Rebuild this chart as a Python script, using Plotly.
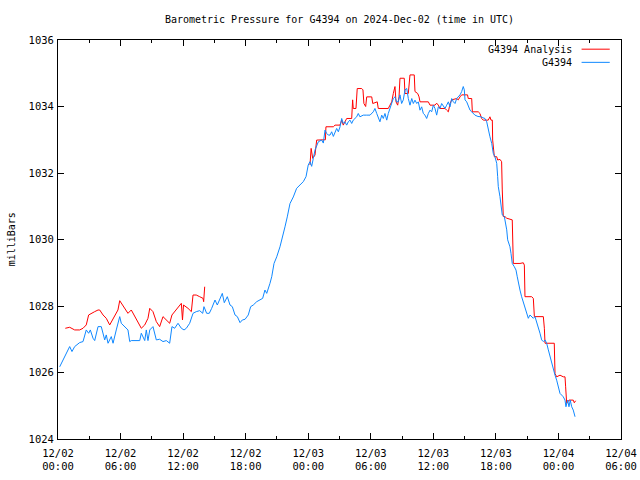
import pandas as pd
import plotly.graph_objects as go

start = pd.Timestamp("2024-12-02 00:00")

# G4394 observations: hours since 2024-12-02 00:00 UTC, pressure (mb)
obs_hours = [0.16, 0.80, 1.12, 1.34, 1.60, 2.08, 2.40, 2.71, 2.94, 3.10, 3.36, 3.52, 3.84, 4.15, 4.48,
             4.63, 4.80, 5.11, 5.28, 5.59, 5.92, 6.07, 6.40, 6.71, 6.88, 7.03, 7.84, 7.99, 8.32, 8.47,
             8.63, 8.80, 9.11, 9.27, 9.43, 9.75, 10.07, 10.39, 10.71, 10.93, 11.19, 11.51, 11.83, 12.09,
             12.31, 12.63, 12.95, 13.26, 13.59, 13.88, 14.00, 14.26, 14.51, 14.74, 15.06, 15.28, 15.54,
             15.76, 15.95, 16.24, 16.50, 16.72, 16.98, 17.20, 17.46, 17.68, 17.94, 18.25, 18.48, 18.73,
             19.06, 19.37, 19.63, 19.85, 20.02, 20.33, 20.50, 20.72, 20.98, 21.29, 21.55, 21.77, 21.99,
             22.25, 22.57, 22.89, 23.21, 23.53, 23.79, 23.91, 24.00, 24.17, 24.33, 24.49, 24.65, 24.97,
             25.29, 25.45, 25.61, 25.77, 25.93, 26.09, 26.25, 26.41, 26.73, 26.89, 27.05, 27.21, 27.36,
             27.52, 27.69, 27.84, 28.01, 28.17, 28.32, 28.65, 28.80, 28.96, 29.28, 29.61, 29.93, 30.24,
             30.40, 30.57, 30.88, 31.05, 31.20, 31.36, 31.53, 31.68, 31.84, 32.01, 32.16, 32.32, 32.48,
             32.64, 32.80, 32.96, 33.12, 33.28, 33.45, 33.60, 33.76, 33.93, 34.08, 34.24, 34.41, 34.56,
             34.72, 34.88, 35.04, 35.20, 35.36, 35.52, 35.68, 35.84, 36.00, 36.16, 36.32, 36.48, 36.64,
             36.80, 36.96, 37.12, 37.28, 37.44, 37.60, 37.76, 37.92, 38.08, 38.24, 38.39, 38.56, 38.72,
             38.87, 38.97, 39.04, 39.20, 39.35, 39.52, 39.68, 39.83, 39.99, 40.28, 40.57, 40.76, 40.95,
             41.12, 41.27, 41.43, 41.60, 41.75, 41.91, 42.08, 42.17, 42.23, 42.39, 42.49, 42.61, 42.81,
             42.94, 43.04, 43.13, 43.26, 43.35, 43.45, 43.57, 43.77, 43.93, 44.05, 44.15, 44.31, 44.47,
             44.63, 44.79, 44.95, 45.11, 45.27, 45.43, 45.59, 45.75, 45.91, 46.07, 46.23, 46.39, 46.55,
             46.71, 46.87, 47.03, 47.19, 47.35, 47.51, 47.67, 47.83, 47.98, 48.15, 48.31, 48.46, 48.63,
             48.72, 48.88, 49.01, 49.13, 49.27, 49.42, 49.59]
obs_mb = [1026.17, 1026.58, 1026.78, 1026.63, 1026.78, 1026.90, 1026.93, 1027.28, 1027.18, 1027.28, 1027.03,
          1026.96, 1027.38, 1027.38, 1026.98, 1027.13, 1026.88, 1027.08, 1026.88, 1027.28, 1027.68, 1027.48,
          1027.38, 1027.28, 1026.93, 1026.96, 1026.96, 1027.18, 1026.96, 1027.28, 1026.96, 1027.28, 1027.38,
          1027.18, 1026.98, 1027.00, 1026.93, 1026.96, 1026.88, 1027.38, 1027.33, 1027.48, 1027.33, 1027.28,
          1027.33, 1027.48, 1027.78, 1027.83, 1027.86, 1027.78, 1027.98, 1027.78, 1027.78, 1027.93, 1028.18,
          1028.03, 1028.23, 1028.38, 1028.10, 1028.28, 1028.03, 1027.98, 1027.73, 1027.68, 1027.50, 1027.58,
          1027.60, 1027.73, 1027.98, 1028.03, 1028.13, 1028.18, 1028.23, 1028.48, 1028.38, 1028.68, 1028.88,
          1029.28, 1029.48, 1029.78, 1030.08, 1030.38, 1030.68, 1031.08, 1031.28, 1031.54, 1031.64, 1031.74,
          1031.89, 1032.14, 1032.24, 1032.34, 1032.20, 1032.44, 1032.69, 1032.94, 1032.99, 1032.90, 1033.29,
          1033.19, 1033.14, 1033.14, 1033.24, 1033.10, 1033.34, 1033.24, 1033.39, 1033.64, 1033.49, 1033.54,
          1033.44, 1033.54, 1033.59, 1033.49, 1033.59, 1033.69, 1033.79, 1033.69, 1033.74, 1033.74, 1033.74,
          1033.84, 1033.94, 1033.79, 1033.54, 1033.74, 1033.64, 1033.79, 1033.59, 1033.79, 1033.94, 1034.14,
          1034.24, 1034.29, 1034.14, 1034.14, 1034.35, 1034.09, 1034.20, 1034.50, 1034.54, 1034.24, 1034.04,
          1034.24, 1034.09, 1034.19, 1034.09, 1034.14, 1033.89, 1033.99, 1033.79, 1033.74, 1033.64, 1033.79,
          1033.89, 1033.84, 1034.04, 1033.94, 1033.74, 1033.99, 1033.94, 1034.09, 1033.99, 1033.94, 1034.04,
          1034.14, 1033.99, 1034.24, 1034.14, 1034.09, 1034.24, 1034.29, 1034.35, 1034.45, 1034.60, 1034.50,
          1034.20, 1034.14, 1034.00, 1033.89, 1033.84, 1033.79, 1033.74, 1033.70, 1033.69, 1033.66, 1033.64,
          1033.54, 1033.29, 1033.09, 1032.89, 1032.59, 1032.49, 1032.29, 1031.89, 1031.59, 1031.29, 1030.99,
          1030.74, 1030.69, 1030.49, 1030.29, 1029.99, 1029.89, 1029.78, 1029.58, 1029.28, 1029.18, 1029.08,
          1028.88, 1028.68, 1028.48, 1028.28, 1028.13, 1027.93, 1027.83, 1027.63, 1027.73, 1027.68, 1027.63,
          1027.68, 1027.53, 1027.38, 1027.18, 1026.98, 1026.93, 1026.98, 1026.88, 1026.68, 1026.48, 1026.27,
          1026.07, 1025.92, 1025.77, 1025.57, 1025.37, 1025.32, 1025.27, 1025.17, 1024.97, 1025.17, 1024.97,
          1025.17, 1024.97, 1024.87, 1024.67]

# G4394 Analysis: hours since start (None = gap), pressure (mb)
ana_hours = [0.70, 1.12, 1.60, 2.08, 2.40, 2.71, 2.94, 3.19, 3.52, 3.84, 4.00, 4.32, 4.63, 4.96, 5.28,
             5.59, 5.75, 5.92, 6.07, 6.40, 6.71, 7.03, 7.36, 7.67, 7.99, 8.32, 8.63, 8.80, 9.11, 9.43,
             9.75, 10.07, 10.39, 10.71, 10.93, 11.19, 11.51, 11.83, 11.94, 12.04, 12.47, 12.79, 12.95,
             13.26, 13.59, 13.91, 13.97, 14.07, None,
             24.17, 24.28, 24.43, 24.65, 24.81, 25.29, 25.65, 25.70, 26.41, 26.57, 27.05, 27.21, 27.36,
             27.69, 28.17, 28.26, 28.32, 28.58, 28.70, 29.13, 29.25, 29.34, 29.51, 29.61, 30.09, 30.19,
             30.62, 30.72, 31.68, 31.84, 32.01, 32.16, 32.32, 32.42, 32.58, 32.71, 32.80, 33.21, 33.28,
             33.60, 33.67, 33.76, 34.17, 34.24, 34.50, 34.63, 34.72, 35.52, 35.68, 36.16, 36.32, 36.48,
             36.64, 37.12, 37.28, 37.44, 37.60, 37.76, 38.24, 38.39, 38.56, 38.72, 39.28, 39.35, 39.68,
             39.74, 40.31, 40.47, 40.63, 40.79, 41.27, 41.43, 41.53, 41.66, 41.69, 41.75, 41.85, 42.08,
             42.17, 42.39, 42.55, 42.61, 42.71, 42.87, 43.04, 43.57, 43.67, 44.31, 44.63, 44.73, 44.79,
             45.43, 45.59, 45.69, 46.55, 46.65, 46.71, 47.60, 47.67, 47.83, 48.15, 48.46, 48.63, 48.69,
             48.79, 49.01, 49.42, 49.52, 49.65]
ana_mb = [1027.33, 1027.36, 1027.28, 1027.28, 1027.33, 1027.43, 1027.73, 1027.78, 1027.83, 1027.88, 1027.88,
          1027.73, 1027.63, 1027.43, 1027.63, 1027.83, 1027.88, 1028.16, 1028.08, 1027.93, 1027.78, 1027.88,
          1027.68, 1027.48, 1027.33, 1027.43, 1027.63, 1027.93, 1027.83, 1027.53, 1027.38, 1027.68, 1027.58,
          1027.48, 1027.73, 1027.83, 1027.93, 1028.08, 1027.58, 1028.03, 1027.93, 1027.83, 1028.33, 1028.33,
          1028.28, 1028.23, 1028.13, 1028.58, None,
          1032.24, 1032.74, 1032.44, 1032.54, 1032.99, 1032.99, 1033.00, 1033.39, 1033.39, 1033.44, 1033.44,
          1033.59, 1033.44, 1033.64, 1033.64, 1034.20, 1033.94, 1033.94, 1034.54, 1034.54, 1034.50, 1034.09,
          1034.00, 1034.29, 1034.29, 1034.09, 1034.14, 1033.94, 1033.94, 1034.04, 1034.14, 1034.39, 1034.60,
          1034.14, 1034.04, 1034.29, 1034.85, 1034.85, 1034.39, 1034.39, 1034.65, 1034.95, 1034.95, 1034.45,
          1034.39, 1034.29, 1034.14, 1034.14, 1034.04, 1034.04, 1034.10, 1034.04, 1033.94, 1033.94, 1033.89,
          1033.84, 1034.08, 1034.20, 1034.24, 1034.20, 1034.29, 1034.35, 1034.35, 1034.24, 1034.24, 1033.84,
          1033.84, 1033.79, 1033.64, 1033.59, 1033.59, 1033.69, 1033.59, 1033.59, 1032.99, 1032.69, 1032.49,
          1032.49, 1032.39, 1032.41, 1032.34, 1031.49, 1030.69, 1030.69, 1030.64, 1030.59, 1029.28, 1029.28,
          1029.30, 1029.23, 1028.28, 1028.28, 1028.23, 1027.68, 1027.68, 1027.33, 1026.88, 1026.88, 1025.97,
          1025.87, 1025.92, 1025.87, 1025.87, 1025.57, 1025.07, 1025.17, 1025.17, 1025.09, 1025.15]

tick_hours = [0, 6, 12, 18, 24, 30, 36, 42, 48, 54]
tick_labels = ["12/02<br>00:00", "12/02<br>06:00", "12/02<br>12:00", "12/02<br>18:00",
               "12/03<br>00:00", "12/03<br>06:00", "12/03<br>12:00", "12/03<br>18:00",
               "12/04<br>00:00", "12/04<br>06:00"]
y_ticks = [1024, 1026, 1028, 1030, 1032, 1034, 1036]

RED = "#ff0000"
BLUE = "#0f88ff"
FONT = "DejaVu Sans Mono"


def to_time(hours):
    return [None if h is None else start + pd.Timedelta(hours=h) for h in hours]


fig = go.Figure()
fig.add_trace(go.Scatter(x=to_time(ana_hours), y=ana_mb, mode="lines", name="G4394 Analysis",
                         line=dict(color=RED, width=1), connectgaps=False))
fig.add_trace(go.Scatter(x=to_time(obs_hours), y=obs_mb, mode="lines", name="G4394",
                         line=dict(color=BLUE, width=1)))

tickvals = to_time(tick_hours)

fig.update_layout(
    width=640, height=480,
    margin=dict(l=58, r=19, t=40, b=41, autoexpand=False),
    paper_bgcolor="white", plot_bgcolor="white",
    showlegend=False,
    font=dict(family=FONT, size=10, color="black"),
    title=dict(text="Barometric Pressure for G4394 on 2024-Dec-02 (time in UTC)",
               xref="paper", x=0.5, xanchor="center", y=0.96, yanchor="middle",
               font=dict(family=FONT, size=10, color="black")),
    xaxis=dict(range=[tickvals[0], tickvals[-1]], tickvals=tickvals, ticktext=tick_labels,
               automargin=False,
               showgrid=False, zeroline=False, showline=True, linecolor="black", linewidth=1,
               mirror="ticks", ticks="inside", ticklen=6, tickcolor="black", tickwidth=1,
               minor=dict(ticks="inside", dtick=3 * 3600 * 1000, ticklen=3, tickcolor="black",
                          showgrid=False),
               ticklabelstandoff=4,
               tickfont=dict(family=FONT, size=10.5)),
    yaxis=dict(range=[1024, 1036], tickvals=y_ticks, ticktext=[str(v) for v in y_ticks],
               automargin=False,
               showgrid=False, zeroline=False, showline=True, linecolor="black", linewidth=1,
               mirror="ticks", ticks="inside", ticklen=6, tickcolor="black", tickwidth=1,
               ticklabelstandoff=1,
               tickfont=dict(family=FONT, size=10.5)),
)

# y axis label
fig.add_annotation(xref="paper", yref="paper", x=-0.082, y=0.5, xanchor="center", yanchor="middle",
                   text="milliBars", textangle=-90, showarrow=False,
                   font=dict(family=FONT, size=10, color="black"))

# gnuplot-style key (text, then sample line on the right)
legend_items = [("G4394 Analysis", RED, 0.977), ("G4394", BLUE, 0.944)]
for label, color, yy in legend_items:
    fig.add_annotation(xref="paper", yref="paper", x=0.917, y=yy, xanchor="right", yanchor="middle",
                       text=label, showarrow=False, font=dict(family=FONT, size=10, color="black"))
    fig.add_shape(type="line", xref="paper", yref="paper", x0=0.93, x1=0.98, y0=yy, y1=yy,
                  line=dict(color=color, width=1))

fig.write_html("out.html", post_script="document.body.style.margin='0';",
               config={"displayModeBar": False})
